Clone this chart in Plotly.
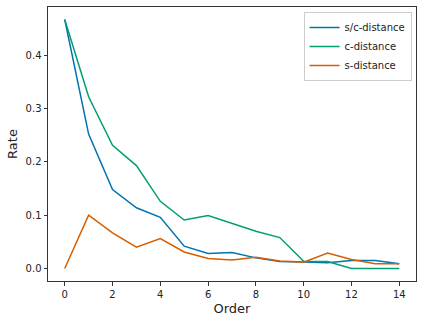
import plotly.graph_objects as go

order = list(range(15))
sc_distance = [0.467, 0.252, 0.148, 0.114, 0.096, 0.042, 0.028, 0.030, 0.020, 0.013, 0.012, 0.011, 0.015, 0.015, 0.009]
c_distance = [0.467, 0.322, 0.231, 0.193, 0.126, 0.091, 0.0995, 0.085, 0.070, 0.058, 0.0135, 0.013, 0.0, 0.0, 0.0]
s_distance = [0.0, 0.100, 0.067, 0.040, 0.056, 0.031, 0.019, 0.016, 0.021, 0.014, 0.012, 0.029, 0.017, 0.009, 0.009]

series = [
    ("s/c-distance", sc_distance, "#0173b2"),
    ("c-distance", c_distance, "#029e73"),
    ("s-distance", s_distance, "#d55e00"),
]

fig = go.Figure()
for name, vals, color in series:
    fig.add_trace(go.Scatter(x=order, y=vals, mode="lines", name=name,
                             line=dict(color=color, width=1.5)))

axis_common = dict(showline=True, linecolor="#333", linewidth=1, mirror=True,
                   ticks="outside", ticklen=3.5, tickcolor="#333", showgrid=False,
                   zeroline=False, automargin=False, tickfont=dict(size=10, color="#222"),
                   title_font=dict(size=13, color="#222"))

fig.update_layout(
    width=423, height=323,
    margin=dict(l=48, r=7, t=7, b=42),
    paper_bgcolor="white", plot_bgcolor="white",
    font=dict(family="DejaVu Sans", color="#222"),
    xaxis=dict(range=[-0.7, 14.7], tickvals=[0, 2, 4, 6, 8, 10, 12, 14],
               title=dict(text="Order", standoff=5), **axis_common),
    yaxis=dict(range=[-0.0234, 0.4904], tickvals=[0, 0.1, 0.2, 0.3, 0.4],
               tickformat=".1f", title=dict(text="Rate", standoff=5), **axis_common),
    legend=dict(x=0.988, y=0.982, xanchor="right", yanchor="top",
                bordercolor="#ccc", borderwidth=1, bgcolor="rgba(255,255,255,0.8)",
                font=dict(size=10, color="#222"), tracegroupgap=0, itemwidth=30),
)

fig.write_html("out.html", config={"responsive": False, "displayModeBar": False},
               post_script="document.body.style.margin='0';document.body.style.overflow='hidden';")
